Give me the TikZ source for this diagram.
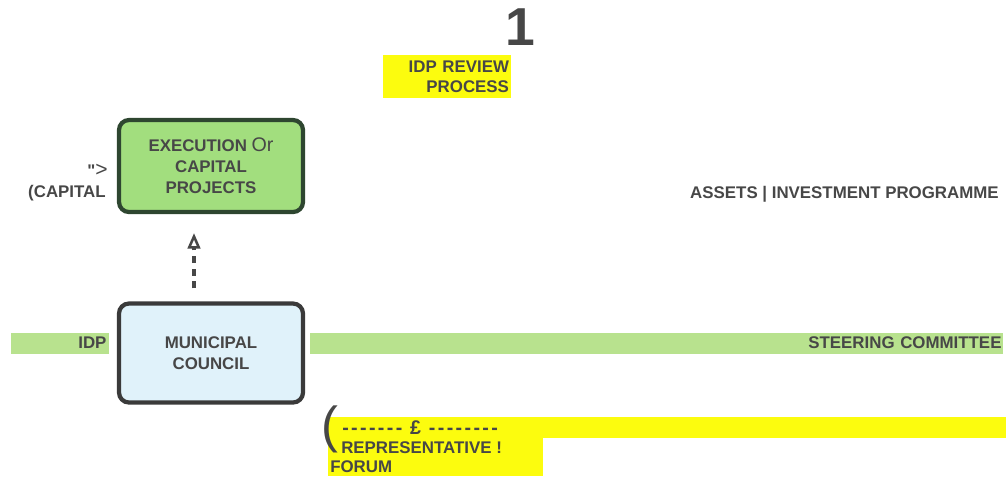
\documentclass[tikz,border=0pt]{standalone}
\usepackage{fontspec}
\setmainfont{Liberation Sans}
\newfontfamily\rulefont{Liberation Sans}[Ligatures=TeXOff]
\newfontfamily\dashfont{Liberation Sans}[Ligatures=TeXOff,LetterSpace=12]
\usetikzlibrary{arrows.meta}
\definecolor{inkgray}{HTML}{474747}
\definecolor{hiyellow}{HTML}{FCFC0E}
\definecolor{bandgreen}{HTML}{B8E28E}
\definecolor{execgreen}{HTML}{A2DE7E}
\definecolor{execedge}{HTML}{2E4630}
\definecolor{councilblue}{HTML}{E0F2FA}
\definecolor{counciledge}{HTML}{3A3A3A}
\newlength\pxu
\setlength\pxu{0.025cm}
\tikzset{
  lbl/.style={text=inkgray, font=\bfseries\fontsize{12}{15}\selectfont, inner sep=0pt},
  procbox/.style={lbl, rounded corners=10*\pxu, line width=3pt,
                  minimum width=184*\pxu, align=center},
  bandbox/.style={lbl, inner sep=0pt, minimum height=21*\pxu, align=right}
}

\begin{document}
\begin{tikzpicture}[x=0.025cm, y=-0.025cm]
\useasboundingbox (0,0) rectangle (1006,476);

% heading
\node (pagenum) [lbl, font=\bfseries\fontsize{38}{38}\selectfont] at (520,27) {1};
\node (review) [lbl, fill=hiyellow, minimum width=128*\pxu, minimum height=43*\pxu,
  text width=124*\pxu, align=right, font=\bfseries\fontsize{12}{14}\selectfont]
  at (447,76.5) {IDP REVIEW\\PROCESS};

% boxes
\node (exec) [procbox, fill=execgreen, draw=execedge, minimum height=92*\pxu]
  at (211,166) {EXECUTION {\mdseries\fontsize{14}{14}\selectfont Or}\\CAPITAL\\PROJECTS};
\node (council) [procbox, fill=councilblue, draw=counciledge, minimum height=99*\pxu]
  at (211,353) {MUNICIPAL\\COUNCIL};
\draw[inkgray, line width=2.5pt, dash pattern=on 5pt off 4pt,
      -{Triangle[open, length=11pt, width=9pt, line width=1.8pt]}]
  ([xshift=-17*\pxu, yshift=13*\pxu]council.north)
  -- ([xshift=-17*\pxu, yshift=-19*\pxu]exec.south);

% side labels
\node (capmark) [lbl, anchor=east, font=\fontsize{15}{15}\selectfont] at (108,170)
  {{\rulefont\bfseries\fontsize{12}{12}\selectfont"}>};
\node (capword) [lbl, anchor=east] at (106,193) {(CAPITAL};
\node (assets) [lbl, anchor=east] at (999,194) {ASSETS | INVESTMENT PROGRAMME};

% green bands
\node (idpband) [bandbox, fill=bandgreen, minimum width=98*\pxu, text width=93*\pxu]
  at (60,343) {IDP};
\node (steerband) [bandbox, fill=bandgreen, minimum width=693*\pxu, text width=690*\pxu]
  at (656.5,343) {STEERING COMMITTEE};

% forum
\node (forumtop) [fill=hiyellow, inner sep=0pt, anchor=north west,
  minimum width=678*\pxu, minimum height=21*\pxu] at (328,417) {};
\node (forumbot) [fill=hiyellow, inner sep=0pt, anchor=north west,
  minimum width=215*\pxu, minimum height=39*\pxu] at (328,437) {};
\node (paren) [lbl, anchor=west, font=\fontsize{36}{36}\selectfont] at (321,429) {(};
\node (dashes) [lbl, anchor=west, font=\dashfont\bfseries\fontsize{14}{14}\selectfont]
  at (342,428) {------- £ --------};
\node (repword) [lbl, anchor=west] at (341,448) {REPRESENTATIVE !};
\node (forumword) [lbl, anchor=west] at (330,467) {FORUM};
\end{tikzpicture}
\end{document}
